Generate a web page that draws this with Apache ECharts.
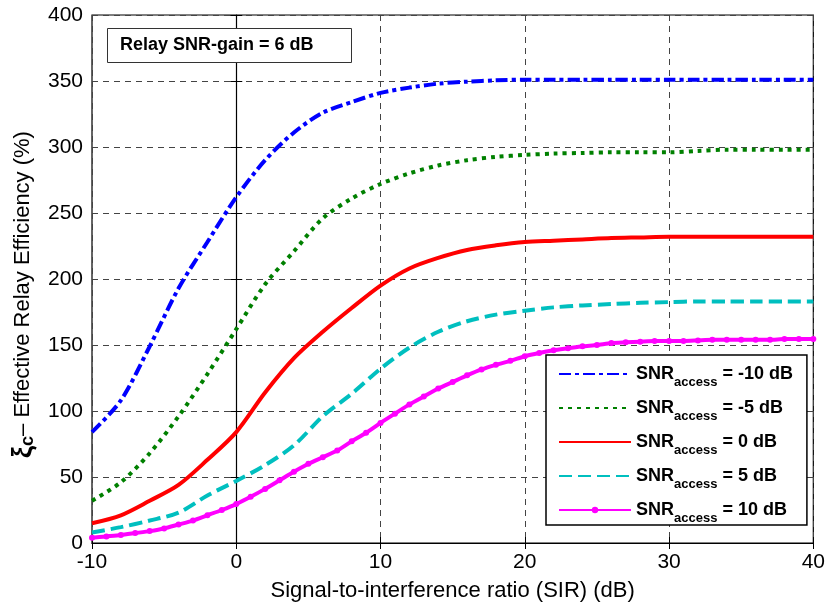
<!DOCTYPE html>
<html>
<head>
<meta charset="utf-8">
<script src="https://cdn.jsdelivr.net/npm/echarts@6/dist/echarts.min.js"></script>
<style>
  html, body { margin: 0; padding: 0; background: #fff; }
  #chart { width: 828px; height: 607px; }
</style>
</head>
<body>
<div id="chart"></div>
<script>
// SIR (dB) sample points
const sirCoarse = [-10, -8, -6, -4, -2, 0, 2, 4, 6, 8, 10, 12, 14, 16, 18, 20, 22, 24, 26, 28, 30, 32, 34, 36, 38, 40];
const sirFine = [-10, -9, -8, -7, -6, -5, -4, -3, -2, -1, 0, 1, 2, 3, 4, 5, 6, 7, 8, 9, 10,
  11, 12, 13, 14, 15, 16, 17, 18, 19, 20, 21, 22, 23, 24, 25, 26, 27, 28, 29, 30,
  31, 32, 33, 34, 35, 36, 37, 38, 39, 40];

// effective relay efficiency (%) for each SNR_access
const effM10 = [84, 108, 149, 193, 228, 262, 290, 311, 326, 334, 341, 345, 348, 349.5, 350.5, 351, 351, 351, 351, 351, 351, 351, 351, 351, 351, 351];
const effM5 = [32, 46, 68, 96, 128, 162, 196, 221, 246, 261, 272, 280, 286, 290, 292.5, 294, 295, 295.5, 296, 296, 296, 297, 298, 298, 298, 298];
const eff0 = [15, 21, 32, 44, 63, 84, 114, 140, 160, 178, 195, 208, 216, 222, 225.5, 228, 229, 230, 231, 231.5, 232, 232, 232, 232, 232, 232];
const eff5 = [8, 12, 17, 23, 36, 47, 59, 74, 96, 113, 132, 148, 160, 168, 173, 176, 178.5, 180, 181, 182, 182.5, 183, 183, 183, 183, 183];
const eff10 = [4, 5, 6, 7.5, 9, 11, 14, 17, 21, 25, 29.5, 35, 41, 47.5, 54, 60, 65, 70, 77, 83.5, 91,
  98, 105, 111, 117, 122, 127, 131.5, 135, 138, 141.5, 144, 146, 147.5, 149, 150, 151.5, 152, 152.5, 153, 153,
  153, 153.5, 154, 154, 154, 154, 154, 154.5, 154.5, 154.5];

const snrLevels = ['-10', '-5', '0', '5', '10'];
const xTicks = [-10, 0, 10, 20, 30, 40];
const yTicks = [0, 50, 100, 150, 200, 250, 300, 350, 400];

const names = snrLevels.map(s => 'SNRaccess = ' + s + ' dB');
const pairs = (xs, ys) => xs.map((x, i) => [x, ys[i]]);

const mychart = echarts.init(document.getElementById('chart'));

const gridLine = { show: true, lineStyle: { color: '#444', width: 1, type: [6, 5] } };

const option = {
  backgroundColor: '#fff',
  animation: false,
  grid: { left: 92, right: 13, top: 15, bottom: 63, show: true, borderColor: '#000', borderWidth: 1.2 },
  title: {
    text: 'Relay SNR-gain = 6 dB',
    left: 107, top: 28,
    padding: [8, 38, 8, 13],
    borderColor: '#333', borderWidth: 1,
    backgroundColor: '#fff',
    textStyle: { fontFamily: 'Liberation Sans', fontSize: 18, fontWeight: 'bold', color: '#000', lineHeight: 19 }
  },
  legend: {
    orient: 'vertical',
    left: 546, top: 355,
    padding: [4, 14, 0, 12],
    itemWidth: 72, itemHeight: 8, itemGap: 4,
    backgroundColor: '#fff', borderColor: '#000', borderWidth: 1.5,
    data: names.map((n, i) => i < 4 ? { name: n, itemStyle: { opacity: 0 } } : { name: n }),
    formatter: function (name) {
      const s = snrLevels[names.indexOf(name)];
      return '{b|SNR}{s|access}{b| = ' + s + ' dB}';
    },
    textStyle: {
      rich: {
        b: { fontFamily: 'Liberation Sans', fontSize: 18, fontWeight: 'bold', color: '#000', lineHeight: 18 },
        s: { fontFamily: 'Liberation Sans', fontSize: 13, fontWeight: 'bold', color: '#000', lineHeight: 13, padding: [17, 0, 0, 0] }
      }
    }
  },
  xAxis: [{
    type: 'value', min: xTicks[0], max: xTicks[xTicks.length - 1], interval: 10,
    name: 'Signal-to-interference ratio (SIR) (dB)',
    nameLocation: 'middle', nameGap: 37,
    nameTextStyle: { fontFamily: 'Liberation Sans', fontSize: 22, color: '#000' },
    axisLine: { show: true, onZero: false, lineStyle: { color: '#000', width: 1.2 } },
    axisTick: { show: true, inside: true, length: 6, lineStyle: { color: '#000' } },
    axisLabel: { fontFamily: 'Liberation Sans', fontSize: 21, color: '#000', margin: 9 },
    splitLine: gridLine
  }, {
    type: 'value', position: 'top', min: xTicks[0], max: xTicks[xTicks.length - 1], interval: 10,
    axisLine: { show: false }, axisLabel: { show: false }, splitLine: { show: false },
    axisTick: { show: true, inside: true, length: 6, lineStyle: { color: '#000' } }
  }],
  yAxis: [{
    type: 'value', min: yTicks[0], max: yTicks[yTicks.length - 1], interval: 50,
    name: '{xi|ξ}{c|c}{t|– Effective Relay Efficiency (%)}',
    nameLocation: 'middle', nameGap: 55, nameRotate: 90,
    nameTextStyle: {
      padding: [0, 31, 0, 0],
      rich: {
        xi: { fontFamily: 'Liberation Sans', fontSize: 27, fontWeight: 'bold', color: '#000', lineHeight: 26 },
        c: { fontFamily: 'Liberation Sans', fontSize: 18, fontWeight: 'bold', color: '#000', lineHeight: 18, padding: [10, 0, 0, 0] },
        t: { fontFamily: 'Liberation Sans', fontSize: 22, color: '#000', lineHeight: 22 }
      }
    },
    axisLine: { show: true, lineStyle: { color: '#000', width: 1.2 } },
    axisTick: { show: true, inside: true, length: 6, lineStyle: { color: '#000' } },
    axisLabel: { fontFamily: 'Liberation Sans', fontSize: 21, color: '#000', margin: 9 },
    splitLine: gridLine
  }, {
    type: 'value', position: 'right', min: yTicks[0], max: yTicks[yTicks.length - 1], interval: 50,
    axisLine: { show: false }, axisLabel: { show: false }, splitLine: { show: false },
    axisTick: { show: true, inside: true, length: 6, lineStyle: { color: '#000' } }
  }],
  series: [
    {
      name: names[0], type: 'line', symbol: 'none', smooth: 0.3,
      lineStyle: { color: '#0000ff', width: 4, type: [12, 4, 4, 4] },
      itemStyle: { color: '#0000ff' },
      data: pairs(sirCoarse, effM10)
    },
    {
      name: names[1], type: 'line', symbol: 'none', smooth: 0.3,
      lineStyle: { color: '#008000', width: 4, type: [4, 5] },
      itemStyle: { color: '#008000' },
      data: pairs(sirCoarse, effM5)
    },
    {
      name: names[2], type: 'line', symbol: 'none', smooth: 0.3,
      lineStyle: { color: '#ff0000', width: 4 },
      itemStyle: { color: '#ff0000' },
      data: pairs(sirCoarse, eff0)
    },
    {
      name: names[3], type: 'line', symbol: 'none', smooth: 0.3,
      lineStyle: { color: '#00bfbf', width: 4, type: [13, 6] },
      itemStyle: { color: '#00bfbf' },
      data: pairs(sirCoarse, eff5)
    },
    {
      name: names[4], type: 'line', symbol: 'circle', symbolSize: 6, smooth: 0.2,
      lineStyle: { color: '#ff00ff', width: 4 },
      itemStyle: { color: '#ff00ff' },
      data: pairs(sirFine, eff10)
    }
  ]
};

mychart.setOption(option);
window.addEventListener('resize', () => {
  mychart.resize();
});
</script>
</body>
</html>
